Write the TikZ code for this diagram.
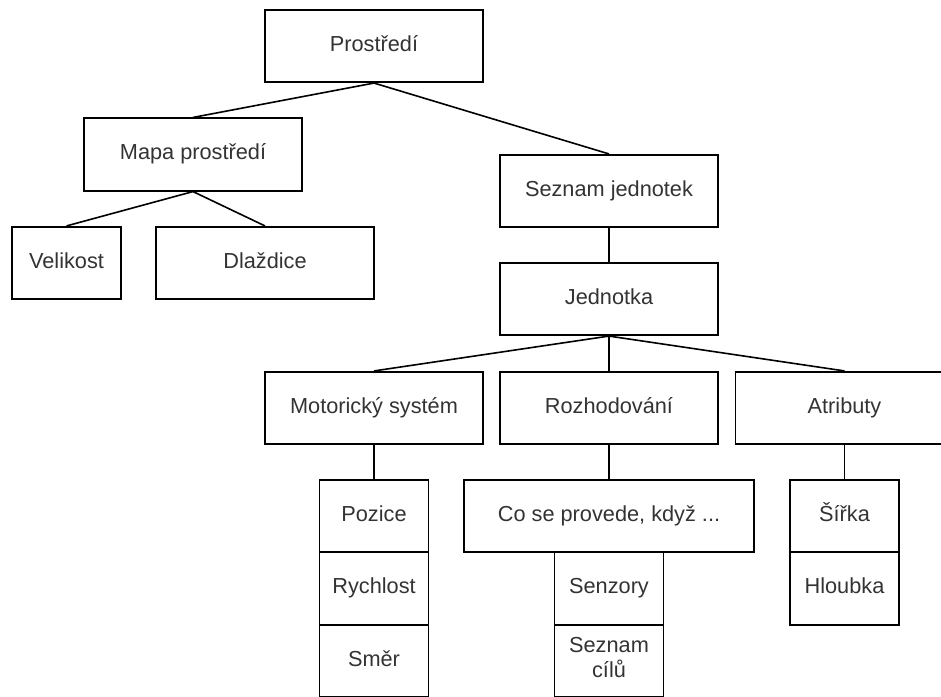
\documentclass[tikz,border=0pt]{standalone}
\usepackage{fontspec}
\setmainfont{Liberation Sans}
\usepackage{tikz}

\begin{document}
\begin{tikzpicture}[x=0.75pt,y=-0.75pt,
    blok/.style={draw,line width=1.2pt,inner sep=0pt,minimum width=163.5pt,minimum height=54.4pt,
      text=black!80,font=\fontsize{16.3}{18.8}\selectfont,align=center,
      execute at begin node=\strut},
    uzky/.style={blok,minimum width=81.75pt},
    siroky/.style={blok,minimum width=217.5pt},
    hrana/.style={line width=1.2pt}]
    \useasboundingbox (0,0) rectangle (941,696);
    \clip (0,0) rectangle (941,696);
    \node[blok] (prostredi) at (374,46) {Prostředí};
    \node[blok] (mapa) at (193,154.5) {Mapa prostředí};
    \node[uzky] (velikost) at (66.5,263) {Velikost};
    \node[blok] (dlazdice) at (265,263) {Dlaždice};
    \node[blok] (seznam) at (609,191) {Seznam jednotek};
    \node[blok] (jednotka) at (609,299) {Jednotka};
    \node[blok] (motor) at (374,408) {Motorický systém};
    \node[blok] (rozhod) at (609,408) {Rozhodování};
    \node[blok] (atributy) at (844.5,408) {Atributy};
    \node[uzky] (pozice) at (374,516) {Pozice};
    \node[uzky] (rychlost) at (374,588.5) {Rychlost};
    \node[uzky] (smer) at (374,661) {Směr};
    \node[siroky] (kdyz) at (609,516) {Co se provede, když ...};
    \node[uzky] (senzory) at (609,588.5) {Senzory};
    \node[uzky] (cile) at (609,661) {Seznam\\cílů};
    \node[uzky] (sirka) at (844.5,516) {Šířka};
    \node[uzky] (hloubka) at (844.5,588.5) {Hloubka};
    \draw[hrana] (prostredi.south) -- (mapa.north);
    \draw[hrana] (prostredi.south) -- (seznam.north);
    \draw[hrana] (mapa.south) -- (velikost.north);
    \draw[hrana] (mapa.south) -- (dlazdice.north);
    \draw[hrana] (seznam.south) -- (jednotka.north);
    \draw[hrana] (jednotka.south) -- (motor.north);
    \draw[hrana] (jednotka.south) -- (rozhod.north);
    \draw[hrana] (jednotka.south) -- (atributy.north);
    \draw[hrana] (motor.south) -- (pozice.north);
    \draw[hrana] (rozhod.south) -- (kdyz.north);
    \draw[hrana] (atributy.south) -- (sirka.north);
  \end{tikzpicture}
\end{document}
